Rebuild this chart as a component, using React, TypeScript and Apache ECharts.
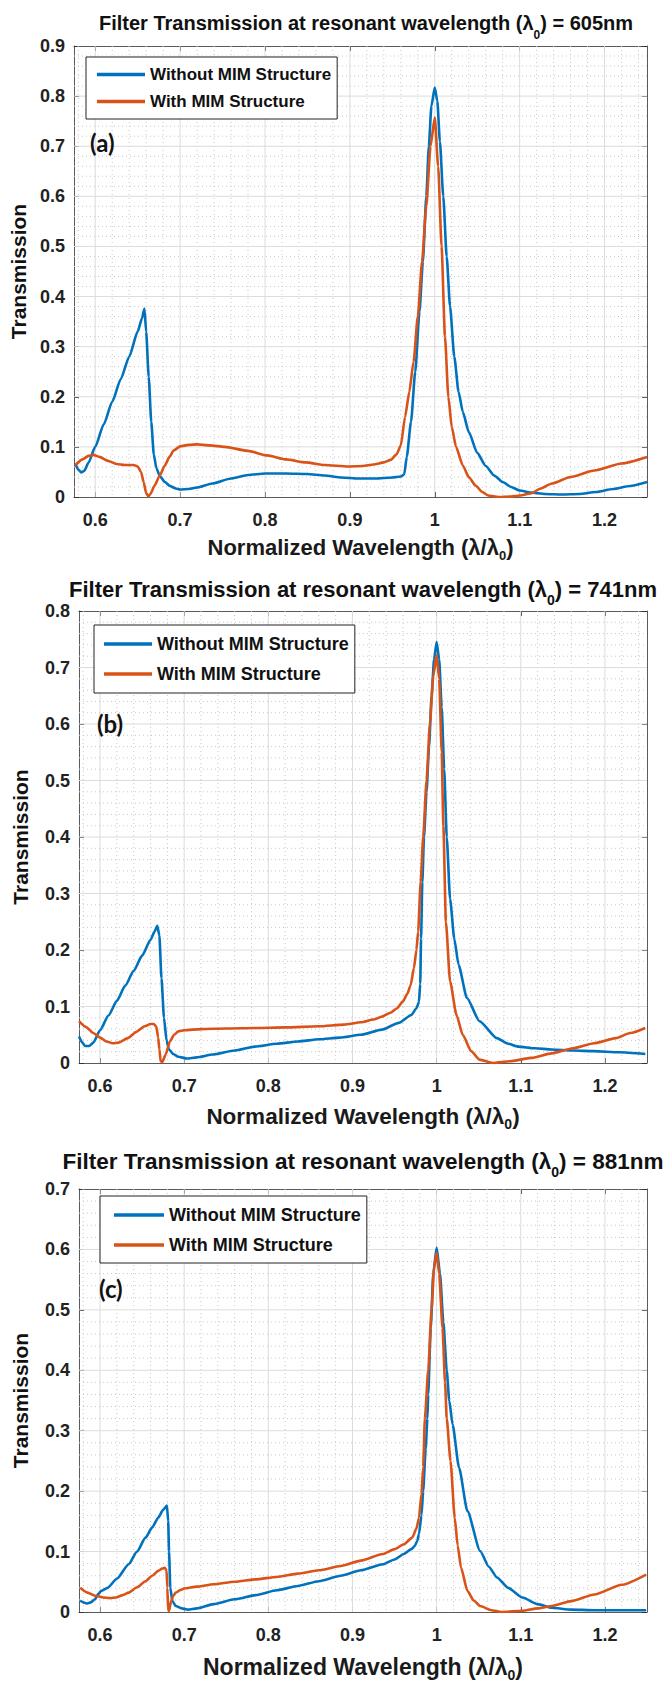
import React, { useEffect, useRef } from "react";
import * as echarts from "echarts";

const xTicks = [0.6, 0.7, 0.8, 0.9, 1, 1.1, 1.2];
const seriesNames = ["Without MIM Structure", "With MIM Structure"];
const panelLabels = ["(a)", "(b)", "(c)"];
const resonances = ["605nm", "741nm", "881nm"];
const yMaxes = [0.9, 0.8, 0.7];

const aWithout = [
  [0.5765, 0.067], [0.58, 0.055], [0.5835, 0.049], [0.587, 0.052], [0.592, 0.068], [0.6, 0.1], [0.61, 0.145], [0.62, 0.19], [0.63, 0.235], [0.64, 0.28], [0.65, 0.33], [0.655, 0.356], [0.658, 0.376], [0.66, 0.33], [0.663, 0.24], [0.666, 0.15], [0.669, 0.085], [0.672, 0.058], [0.676, 0.042], [0.682, 0.03], [0.688, 0.022], [0.695, 0.017], [0.7, 0.015], [0.71, 0.016], [0.72, 0.019], [0.738, 0.027], [0.76, 0.037], [0.78, 0.044], [0.8, 0.047], [0.825, 0.047], [0.85, 0.046], [0.87, 0.043], [0.89, 0.039], [0.91, 0.037], [0.93, 0.037], [0.95, 0.039], [0.96, 0.041], [0.964, 0.045], [0.967, 0.08], [0.972, 0.15], [0.977, 0.25], [0.982, 0.37], [0.986, 0.47], [0.99, 0.6], [0.993, 0.7], [0.996, 0.78], [1.0, 0.817], [1.003, 0.79], [1.006, 0.71], [1.01, 0.6], [1.014, 0.48], [1.018, 0.38], [1.023, 0.28], [1.028, 0.21], [1.033, 0.17], [1.04, 0.13], [1.05, 0.088], [1.06, 0.062], [1.07, 0.043], [1.08, 0.03], [1.09, 0.02], [1.1, 0.013], [1.113, 0.009], [1.13, 0.006], [1.15, 0.005], [1.17, 0.006], [1.19, 0.01], [1.21, 0.016], [1.23, 0.022], [1.25, 0.03],
];
const aWith = [
  [0.5765, 0.063], [0.585, 0.075], [0.592, 0.082], [0.598, 0.084], [0.605, 0.08], [0.615, 0.072], [0.625, 0.066], [0.635, 0.064], [0.645, 0.064], [0.65, 0.061], [0.654, 0.05], [0.657, 0.03], [0.66, 0.008], [0.6625, 0.001], [0.665, 0.006], [0.67, 0.023], [0.676, 0.043], [0.682, 0.063], [0.6875, 0.08], [0.6925, 0.093], [0.7, 0.101], [0.71, 0.104], [0.72, 0.105], [0.735, 0.103], [0.7525, 0.1], [0.78, 0.092], [0.8025, 0.083], [0.825, 0.075], [0.848, 0.069], [0.87, 0.064], [0.898, 0.061], [0.915, 0.062], [0.928, 0.065], [0.94, 0.069], [0.948, 0.074], [0.955, 0.085], [0.96, 0.103], [0.965, 0.16], [0.97, 0.21], [0.975, 0.27], [0.98, 0.36], [0.985, 0.47], [0.99, 0.58], [0.995, 0.7], [1.0, 0.757], [1.004, 0.66], [1.008, 0.5], [1.012, 0.32], [1.016, 0.2], [1.02, 0.14], [1.025, 0.1], [1.033, 0.063], [1.04, 0.04], [1.048, 0.023], [1.056, 0.01], [1.063, 0.003], [1.075, 0.0], [1.09, 0.001], [1.1, 0.003], [1.113, 0.007], [1.125, 0.017], [1.138, 0.027], [1.16, 0.04], [1.188, 0.053], [1.22, 0.067], [1.25, 0.08],
];
const bWithout = [
  [0.575, 0.047], [0.579, 0.036], [0.5823, 0.03], [0.587, 0.03], [0.592, 0.036], [0.6, 0.058], [0.61, 0.084], [0.62, 0.11], [0.63, 0.137], [0.64, 0.163], [0.65, 0.19], [0.66, 0.218], [0.665, 0.233], [0.668, 0.243], [0.6705, 0.226], [0.673, 0.15], [0.676, 0.08], [0.679, 0.04], [0.682, 0.024], [0.687, 0.016], [0.693, 0.011], [0.703, 0.008], [0.715, 0.01], [0.734, 0.015], [0.76, 0.022], [0.784, 0.029], [0.81, 0.034], [0.835, 0.038], [0.86, 0.042], [0.885, 0.045], [0.91, 0.05], [0.935, 0.059], [0.955, 0.071], [0.97, 0.085], [0.976, 0.097], [0.979, 0.108], [0.9805, 0.14], [0.9815, 0.22], [0.983, 0.32], [0.985, 0.4], [0.988, 0.48], [0.991, 0.56], [0.994, 0.65], [0.997, 0.715], [1.0, 0.745], [1.003, 0.715], [1.006, 0.63], [1.009, 0.52], [1.012, 0.4], [1.016, 0.29], [1.021, 0.22], [1.026, 0.174], [1.036, 0.115], [1.051, 0.074], [1.0715, 0.044], [1.085, 0.034], [1.097, 0.029], [1.117, 0.026], [1.137, 0.024], [1.162, 0.022], [1.187, 0.021], [1.217, 0.019], [1.248, 0.016],
];
const bWith = [
  [0.575, 0.074], [0.583, 0.064], [0.592, 0.053], [0.6, 0.045], [0.6076, 0.038], [0.615, 0.035], [0.622, 0.036], [0.633, 0.044], [0.643, 0.055], [0.653, 0.065], [0.66, 0.069], [0.664, 0.069], [0.667, 0.064], [0.669, 0.045], [0.6706, 0.024], [0.672, 0.003], [0.674, 0.002], [0.678, 0.015], [0.683, 0.038], [0.688, 0.05], [0.693, 0.056], [0.7, 0.058], [0.72, 0.06], [0.75, 0.061], [0.784, 0.062], [0.82, 0.063], [0.86, 0.065], [0.89, 0.068], [0.91, 0.072], [0.925, 0.077], [0.935, 0.082], [0.945, 0.089], [0.953, 0.097], [0.96, 0.109], [0.965, 0.122], [0.969, 0.137], [0.973, 0.168], [0.976, 0.2], [0.978, 0.232], [0.981, 0.32], [0.984, 0.4], [0.988, 0.5], [0.992, 0.6], [0.996, 0.685], [1.0, 0.722], [1.003, 0.68], [1.006, 0.55], [1.008, 0.42], [1.011, 0.25], [1.016, 0.144], [1.0236, 0.085], [1.031, 0.05], [1.041, 0.021], [1.051, 0.006], [1.0665, 0.0], [1.087, 0.003], [1.112, 0.009], [1.137, 0.017], [1.162, 0.026], [1.187, 0.035], [1.213, 0.044], [1.23, 0.053], [1.248, 0.062],
];
const cWithout = [
  [0.5764, 0.019], [0.58, 0.016], [0.584, 0.014], [0.589, 0.016], [0.594, 0.021], [0.598, 0.03], [0.6015, 0.035], [0.609, 0.04], [0.62, 0.055], [0.634, 0.079], [0.644, 0.1], [0.654, 0.123], [0.662, 0.14], [0.669, 0.156], [0.675, 0.169], [0.6795, 0.176], [0.681, 0.15], [0.682, 0.1], [0.6835, 0.04], [0.686, 0.018], [0.69, 0.01], [0.697, 0.006], [0.7046, 0.004], [0.715, 0.006], [0.735, 0.013], [0.76, 0.021], [0.785, 0.028], [0.81, 0.036], [0.835, 0.043], [0.86, 0.051], [0.886, 0.06], [0.91, 0.069], [0.936, 0.079], [0.95, 0.087], [0.961, 0.096], [0.97, 0.104], [0.974, 0.109], [0.977, 0.118], [0.979, 0.129], [0.982, 0.16], [0.984, 0.2], [0.987, 0.27], [0.989, 0.32], [0.99, 0.36], [0.993, 0.47], [0.996, 0.56], [1.0, 0.603], [1.004, 0.56], [1.008, 0.48], [1.012, 0.4], [1.015, 0.35], [1.019, 0.31], [1.0266, 0.239], [1.0366, 0.167], [1.0517, 0.101], [1.062, 0.075], [1.0718, 0.057], [1.085, 0.04], [1.102, 0.024], [1.12, 0.013], [1.137, 0.007], [1.16, 0.004], [1.1875, 0.003], [1.22, 0.003], [1.249, 0.003],
];
const cWith = [
  [0.5764, 0.04], [0.585, 0.032], [0.594, 0.027], [0.604, 0.024], [0.612, 0.023], [0.619, 0.024], [0.627, 0.028], [0.634, 0.032], [0.644, 0.041], [0.654, 0.051], [0.662, 0.06], [0.669, 0.068], [0.674, 0.072], [0.677, 0.073], [0.679, 0.069], [0.68, 0.04], [0.681, 0.002], [0.682, 0.002], [0.6845, 0.018], [0.687, 0.027], [0.69, 0.032], [0.695, 0.036], [0.7, 0.039], [0.715, 0.042], [0.735, 0.046], [0.76, 0.05], [0.785, 0.054], [0.81, 0.058], [0.835, 0.0635], [0.86, 0.069], [0.886, 0.076], [0.91, 0.085], [0.936, 0.096], [0.95, 0.104], [0.961, 0.112], [0.971, 0.123], [0.976, 0.138], [0.979, 0.156], [0.982, 0.195], [0.984, 0.24], [0.986, 0.32], [0.99, 0.4], [0.994, 0.5], [0.997, 0.57], [1.0, 0.595], [1.003, 0.56], [1.007, 0.47], [1.01, 0.38], [1.012, 0.32], [1.0165, 0.25], [1.0215, 0.156], [1.025, 0.11], [1.029, 0.073], [1.0366, 0.035], [1.044, 0.019], [1.0517, 0.01], [1.065, 0.003], [1.077, 0.0], [1.102, 0.002], [1.12, 0.006], [1.137, 0.01], [1.16, 0.018], [1.1875, 0.029], [1.22, 0.045], [1.249, 0.062],
];

const panelsData = [
  [aWithout, aWith],
  [bWithout, bWith],
  [cWithout, cWith],
];

const COLORS = ["#0072BD", "#D95319"];
const FONT = "'Liberation Sans', Arial, Helvetica, sans-serif";
const X_MIN = 0.575;
const X_MAX = 1.25;

// layout per panel (pixels)
const LAYOUT = [
  { left: 74, top: 46, width: 573, height: 451, titleX: 366, titleY: 23, titleSize: 20, legend: { left: 86, top: 57, pad: [9, 6, 9, 11], gap: 10, font: 17, iw: 48 }, label: { x: 90, y: 142 }, yGap: 44, xGap: 35, xName: 22 },
  { left: 79, top: 611, width: 568, height: 452, titleX: 363, titleY: 589, titleSize: 22, legend: { left: 94, top: 625, pad: [10, 6, 10, 10], gap: 12, font: 18, iw: 48 }, label: { x: 97, y: 723 }, yGap: 48, xGap: 38, xName: 22.5 },
  { left: 79, top: 1189, width: 568, height: 424, titleX: 363, titleY: 1161, titleSize: 22.5, legend: { left: 100, top: 1196, pad: [10, 6, 9, 14], gap: 12, font: 18, iw: 50 }, label: { x: 99, y: 1288 }, yGap: 48, xGap: 40, xName: 23 },
];

function gridLineData(yMax: number) {
  const out: number[][] = [];
  xTicks.forEach((v) => out.push([0, v, 1]));
  for (let i = 29; i <= 62; i++) if (i % 5 !== 0) out.push([0, i * 0.02, 0]);
  const nY = Math.round(yMax / 0.02);
  for (let i = 1; i < nY; i++) out.push([1, i * 0.02, i % 5 === 0 ? 1 : 0]);
  return out;
}

function buildOption() {
  const grid: any[] = [];
  const xAxis: any[] = [];
  const yAxis: any[] = [];
  const series: any[] = [];
  const legend: any[] = [];
  const graphic: any[] = [];
  const axisLineStyle = { color: "#5a5a5a", width: 1 };

  LAYOUT.forEach((L, p) => {
    const yMax = yMaxes[p];
    grid.push({ left: L.left, top: L.top, width: L.width, height: L.height, containLabel: false });
    const rich = {
      m: { fontSize: L.xName, fontWeight: "bold", fontFamily: FONT, color: "#1a1a1a", lineHeight: 30 },
      s: { fontSize: Math.round(L.xName * 0.6), fontWeight: "bold", fontFamily: FONT, color: "#1a1a1a", lineHeight: 12, verticalAlign: "bottom" },
    };
    xAxis.push({
      type: "value", gridIndex: p, min: X_MIN, max: X_MAX, position: "bottom",
      axisLine: { show: true, onZero: false, lineStyle: axisLineStyle },
      axisTick: { show: true, inside: true, length: 5, customValues: xTicks, lineStyle: { color: "#333" } },
      axisLabel: { show: true, customValues: xTicks, margin: 14, fontSize: 18, fontWeight: "bold", fontFamily: FONT, color: "#222" },
      splitLine: { show: false },
      name: "{m|Normalized Wavelength (λ/λ}{s|0}{m|)}",
      nameLocation: "middle", nameGap: L.xGap,
      nameTextStyle: { rich },
    });
    xAxis.push({
      type: "value", gridIndex: p, min: X_MIN, max: X_MAX, position: "top",
      axisLine: { show: true, onZero: false, lineStyle: axisLineStyle },
      axisTick: { show: true, inside: true, length: 5, customValues: xTicks, lineStyle: { color: "#333" } },
      axisLabel: { show: false, customValues: xTicks },
      splitLine: { show: false },
    });
    yAxis.push({
      type: "value", gridIndex: p, min: 0, max: yMax, interval: 0.1, position: "left",
      axisLine: { show: true, onZero: false, lineStyle: axisLineStyle },
      axisTick: { show: true, inside: true, length: 5, lineStyle: { color: "#333" } },
      axisLabel: { show: true, margin: 9, fontSize: 18, fontWeight: "bold", fontFamily: FONT, color: "#222" },
      splitLine: { show: false },
      name: "Transmission", nameLocation: "middle", nameGap: L.yGap,
      nameTextStyle: { fontSize: 21, fontWeight: "bold", fontFamily: FONT, color: "#111" },
    });
    yAxis.push({
      type: "value", gridIndex: p, min: 0, max: yMax, interval: 0.1, position: "right",
      axisLine: { show: true, onZero: false, lineStyle: axisLineStyle },
      axisTick: { show: true, inside: true, length: 5, lineStyle: { color: "#333" } },
      axisLabel: { show: false },
      splitLine: { show: false },
    });

    series.push({
      type: "custom", xAxisIndex: p * 2, yAxisIndex: p * 2, silent: true, z: 1,
      data: gridLineData(yMax),
      renderItem: (params: any, api: any) => {
        const cs = params.coordSys;
        const dir = api.value(0);
        const v = api.value(1);
        const major = api.value(2);
        let shape;
        if (dir === 0) {
          const x = api.coord([v, 0])[0];
          shape = { x1: x, y1: cs.y, x2: x, y2: cs.y + cs.height };
        } else {
          const y = api.coord([1, v])[1];
          shape = { x1: cs.x, y1: y, x2: cs.x + cs.width, y2: y };
        }
        return {
          type: "line", shape,
          style: major ? { stroke: "#dcdcdc", lineWidth: 1 } : { stroke: "#c9c9c9", lineWidth: 1, lineDash: [1, 3] },
        };
      },
    });

    panelsData[p].forEach((d, k) => {
      series.push({
        type: "line", name: seriesNames[k], xAxisIndex: p * 2, yAxisIndex: p * 2,
        data: d, showSymbol: false, symbol: "none", smooth: 0.2, smoothMonotone: "x",
        lineStyle: { color: COLORS[k], width: 2.6 }, itemStyle: { color: COLORS[k] }, z: 3,
      });
    });

    legend.push({
      orient: "vertical", left: L.legend.left, top: L.legend.top,
      data: seriesNames.map((n) => ({ name: n, icon: "rect" })),
      itemWidth: L.legend.iw, itemHeight: 3.5, itemGap: L.legend.gap, itemTextGap: 4,
      padding: L.legend.pad, borderColor: "#222", borderWidth: 1, backgroundColor: "#fff",
      textStyle: { fontSize: L.legend.font, lineHeight: 14, fontWeight: "bold", fontFamily: FONT, color: "#111" },
      selectedMode: false,
    });

    graphic.push({
      type: "text", x: L.titleX, y: L.titleY, z: 10,
      style: {
        text: `{m|Filter Transmission at resonant wavelength (λ}{s|0}{m|) = ${resonances[p]}}`,
        align: "center", verticalAlign: "middle",
        rich: {
          m: { fontSize: L.titleSize, fontWeight: "bold", fontFamily: FONT, fill: "#111", lineHeight: 35 },
          s: { fontSize: Math.round(L.titleSize * 0.62), fontWeight: "bold", fontFamily: FONT, fill: "#111", lineHeight: 13, verticalAlign: "bottom" },
        },
      },
    });
    graphic.push({
      type: "text", x: L.label.x, y: L.label.y, z: 10,
      style: { text: panelLabels[p], fontSize: 24, fontWeight: "bold", fontFamily: "Lato, 'Open Sans', sans-serif", fill: "#111", align: "left", verticalAlign: "middle" },
    });
  });

  return { animation: false, backgroundColor: "#fff", grid, xAxis, yAxis, series, legend, graphic };
}

export default function App() {
  const ref = useRef<HTMLDivElement>(null);
  useEffect(() => {
    if (!ref.current) return;
    const chart = echarts.init(ref.current, undefined, { renderer: "svg" });
    chart.setOption(buildOption() as any);
    return () => chart.dispose();
  }, []);
  return <div ref={ref} style={{ position: "absolute", left: 0, top: 0, width: 666, height: 1683, background: "#fff" }} />;
}
